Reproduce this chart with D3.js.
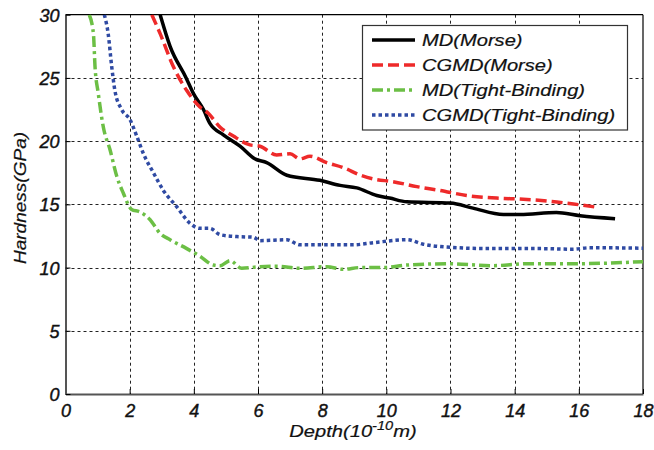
<!DOCTYPE html>
<html>
<head>
<meta charset="utf-8">
<script src="https://d3js.org/d3.v7.min.js"></script>
<style>
  body { margin: 0; background: #fff; }
  svg { display: block; }
  text { font-family: "Liberation Sans", Arial, sans-serif; font-style: italic; }
</style>
</head>
<body>
<script>
// values: [depth (1e-10 m), hardness (GPa)]
var mdMorse = [[2.95,30],[3.26,27.5],[3.76,25],[3.98,23.8],[4.3,22.5],[4.5,21.4],[4.92,20.5],[5.44,19.6],
  [5.9,18.6],[6.27,18.3],[6.9,17.3],[7.93,16.9],[8.56,16.5],[9.08,16.3],[9.7,15.7],[10.1,15.5],[10.64,15.2],
  [12.0,15.1],[12.7,14.7],[13.65,14.2],[14.17,14.2],[15.3,14.35],[16.04,14.1],[17.13,13.87]];
var cgmdMorse = [[2.69,30],[2.95,28.5],[3.36,25.9],[3.78,24.0],[4.19,22.7],[4.45,22.2],[4.82,21.1],[5.23,20.4],
  [5.75,19.7],[6.06,19.6],[6.58,18.9],[7.0,19.0],[7.31,18.6],[7.62,18.8],[8.14,18.3],[8.66,17.9],[9.2,17.3],
  [9.6,17.0],[10.2,16.8],[10.95,16.4],[11.67,16.1],[12.5,15.7],[13.44,15.5],[14.27,15.4],[15.0,15.27],
  [15.83,15.03],[16.56,14.77]];
var mdTB = [[0.74,30],[0.87,28.5],[0.92,25.9],[1.02,23.8],[1.18,21.1],[1.39,19.3],[1.6,17.2],[1.8,15.9],
  [2.06,14.6],[2.32,14.4],[2.63,13.8],[2.95,12.7],[3.26,12.2],[3.78,11.5],[4.19,10.9],[4.61,10.2],[4.82,10.15],
  [5.13,10.55],[5.49,9.94],[6.06,10.07],[6.58,10.1],[7.31,9.94],[8.14,10.07],[8.66,9.86],[9.18,10.0],
  [9.9,10.0],[10.64,10.2],[11.9,10.3],[13.3,10.15],[14.4,10.3],[15.8,10.3],[16.9,10.35],[18.0,10.47]];
var cgmdTB = [[1.21,30],[1.33,28.5],[1.44,25.9],[1.54,24.0],[1.75,22.5],[2.01,21.7],[2.22,20.4],[2.43,19.0],
  [2.74,17.5],[3.05,16.1],[3.47,14.8],[3.88,13.5],[4.19,13.1],[4.5,13.1],[4.82,12.6],[5.34,12.45],[5.85,12.4],
  [6.06,12.13],[6.9,12.2],[7.31,11.8],[8.14,11.8],[8.97,11.8],[9.6,11.97],[10.64,12.2],[11.15,11.85],
  [12.0,11.6],[13.2,11.5],[14.8,11.5],[15.8,11.45],[16.35,11.57],[18.0,11.53]];

var xTicks = [0,2,4,6,8,10,12,14,16,18];
var yTicks = [0,5,10,15,20,25,30];

var series = [
  {name: "MD(Morse)", data: mdMorse, color: "#000000", dash: null},
  {name: "CGMD(Morse)", data: cgmdMorse, color: "#ee2a2a", dash: "11,5"},
  {name: "MD(Tight-Binding)", data: mdTB, color: "#6cbf45", dash: "11,4,3,4"},
  {name: "CGMD(Tight-Binding)", data: cgmdTB, color: "#2f4aa3", dash: "3.5,3"}
];

var W = 654, H = 450;
var m = {left: 65.5, top: 14.7, right: 643, bottom: 394};

var svg = d3.select("body").append("svg").attr("width", W).attr("height", H);

var x = d3.scaleLinear().domain([0, 18]).range([m.left, m.right]);
var y = d3.scaleLinear().domain([0, 30]).range([m.bottom, m.top]);

svg.append("defs").append("clipPath").attr("id", "clip")
  .append("rect").attr("x", m.left).attr("y", m.top)
  .attr("width", m.right - m.left).attr("height", m.bottom - m.top);

// grid
var grid = svg.append("g").attr("stroke", "#222").attr("stroke-width", 1).attr("stroke-dasharray", "3,3");
grid.selectAll(".gx").data(xTicks.slice(1, -1)).enter().append("line")
  .attr("x1", d => Math.round(x(d)) + 0.5).attr("x2", d => Math.round(x(d)) + 0.5)
  .attr("y1", m.top).attr("y2", m.bottom);
grid.selectAll(".gy").data(yTicks.slice(1, -1)).enter().append("line")
  .attr("y1", d => Math.round(y(d)) + 0.5).attr("y2", d => Math.round(y(d)) + 0.5)
  .attr("x1", m.left).attr("x2", m.right);

// axes
var xAxis = d3.axisBottom(x).tickValues(xTicks).tickSizeInner(-5).tickSizeOuter(0).tickPadding(10);
var yAxis = d3.axisLeft(y).tickValues(yTicks).tickSizeInner(-5).tickSizeOuter(0).tickPadding(6);

var gx = svg.append("g").attr("transform", "translate(0," + m.bottom + ")").call(xAxis);
var gy = svg.append("g").attr("transform", "translate(" + m.left + ",0)").call(yAxis);
[gx, gy].forEach(function(g) {
  g.select(".domain").attr("stroke", "#555").attr("stroke-width", 2);
  g.selectAll(".tick line").attr("stroke", "#000");
  g.selectAll(".tick text").attr("font-size", 18).attr("fill", "#111")
    .attr("stroke", "#111").attr("stroke-width", 0.4)
    .attr("font-family", "'Liberation Sans', Arial, sans-serif").attr("font-style", "italic");
});
gy.selectAll(".tick text").attr("dy", "0.36em");

// top and right border
svg.append("line").attr("x1", m.left).attr("x2", m.right).attr("y1", m.top).attr("y2", m.top)
  .attr("stroke", "#000").attr("stroke-width", 1.2);
svg.append("line").attr("x1", m.right).attr("x2", m.right).attr("y1", m.top).attr("y2", m.bottom)
  .attr("stroke", "#000").attr("stroke-width", 1.2);

// curves
var line = d3.line().x(d => x(d[0])).y(d => y(d[1])).curve(d3.curveMonotoneX);
svg.append("g").attr("clip-path", "url(#clip)")
  .selectAll("path").data(series).enter().append("path")
  .attr("d", d => line(d.data))
  .attr("fill", "none")
  .attr("stroke", d => d.color)
  .attr("stroke-width", 3.5)
  .attr("stroke-dasharray", d => d.dash);

// legend
var lg = svg.append("g");
lg.append("rect").attr("x", 362.5).attr("y", 25.5).attr("width", 265).attr("height", 104.5)
  .attr("fill", "#fff").attr("stroke", "#333").attr("stroke-width", 1.2);
var items = lg.selectAll(".item").data(series).enter().append("g")
  .attr("transform", (d, i) => "translate(0," + (40 + i * 25) + ")");
items.append("line").attr("x1", 372).attr("x2", 415).attr("y1", 0).attr("y2", 0)
  .attr("stroke", d => d.color).attr("stroke-width", 3.5).attr("stroke-dasharray", d => d.dash);
items.append("text").attr("transform", "translate(422,0) scale(1.22,1)").attr("dy", "0.36em")
  .attr("font-size", 16.5).attr("fill", "#111").attr("stroke", "#111").attr("stroke-width", 0.2)
  .text(d => d.name);

// axis labels
var xl = svg.append("text").attr("transform", "translate(353,437) scale(1.22,1)")
  .attr("text-anchor", "middle").attr("font-size", 16.5).attr("fill", "#111")
  .attr("stroke", "#111").attr("stroke-width", 0.2);
xl.append("tspan").text("Depth(10");
xl.append("tspan").attr("dy", -7).attr("font-size", 12).text("-10");
xl.append("tspan").attr("dy", 7).text("m)");

svg.append("text").attr("transform", "translate(26,198) rotate(-90) scale(1.12,1)")
  .attr("text-anchor", "middle").attr("font-size", 17).attr("fill", "#111")
  .attr("stroke", "#111").attr("stroke-width", 0.2).text("Hardness(GPa)");
</script>
</body>
</html>
